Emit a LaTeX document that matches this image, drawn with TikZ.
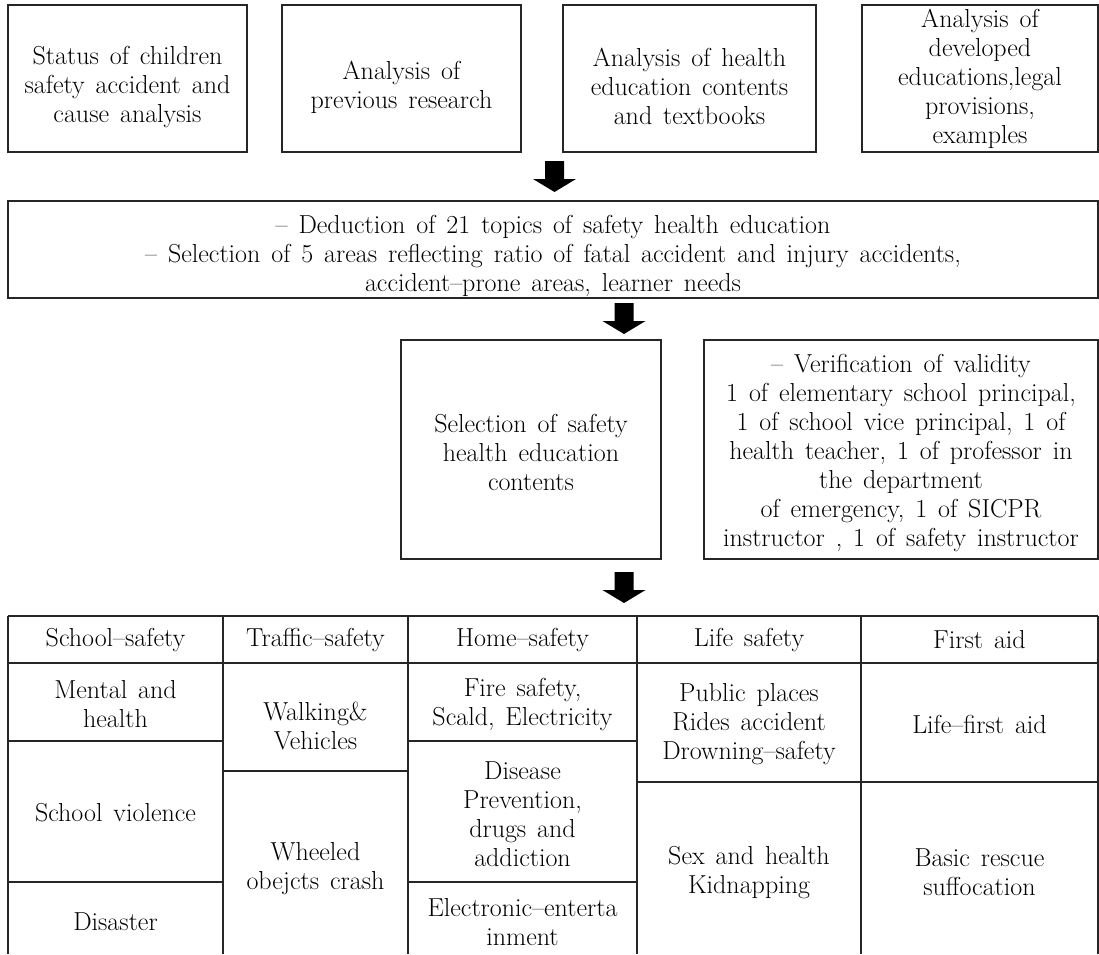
\documentclass[tikz,border=0pt]{standalone}
\usepackage{fontspec}
\newcommand\diagfont{\fontsize{26}{29}\selectfont\spaceskip=0.42em\relax}
\begin{document}
\begin{tikzpicture}[x=1pt,y=-1pt,
  box/.style={draw=black!85, line width=1.3pt, inner sep=0pt},
  txt/.style={inner sep=0pt, align=center, font=\diagfont},
  grid/.style={draw=black!85, line width=1.3pt},
  blockarrow/.pic={\fill[black] (-9.5,0) -- (9.5,0) -- (9.5,18) -- (21.5,18) -- (0,31)
                   -- (-21.5,18) -- (-9.5,18) -- cycle;}]
\useasboundingbox (0,0) rectangle (1099,954);

% top row
\node[box, minimum width=239pt, minimum height=147pt] (b1) at (127.5,78.5) {};
\node[txt, yshift=-9pt] (t1) at (b1) {Status of children\\safety accident and\\cause analysis};
\node[box, minimum width=239pt, minimum height=147pt] (b2) at (401.5,78.5) {};
\node[txt, yshift=-9pt] (t2) at (b2) {Analysis of\\previous research};
\node[box, minimum width=253pt, minimum height=147pt] (b3) at (689.5,78.5) {};
\node[txt, yshift=-8pt] (t3) at (b3) {Analysis of health\\education contents\\and textbooks};
\node[box, minimum width=236pt, minimum height=147pt] (b4) at (980,78.5) {};
\node[txt] (t4) at (b4) {Analysis of\\developed\\educations,legal\\provisions,\\examples};

\pic at (554.5,161) {blockarrow};

\node[box, minimum width=1090pt, minimum height=97pt] (deduct) at (553,249.5) {};
\node[txt, yshift=-6pt] (tdeduct) at (deduct)
  {-- Deduction of 21 topics of safety health education\\
   -- Selection of 5 areas reflecting ratio of fatal accident and injury accidents,\\
   accident--prone areas, learner needs};

\pic at (624,303) {blockarrow};

\node[box, minimum width=260pt, minimum height=219pt] (sel) at (531,449.5) {};
\node[txt, yshift=-3pt] (tsel) at (sel) {Selection of safety\\health education\\contents};
\node[box, minimum width=394pt, minimum height=219pt] (ver) at (901,449.5) {};
\node[txt, yshift=-4pt] (tver) at (ver)
  {-- Verification of validity\\
   1 of elementary school principal,\\
   1 of school vice principal, 1 of\\
   health teacher, 1 of professor in\\
   the department\\
   of emergency, 1 of SICPR\\
   instructor , 1 of safety instructor};

\pic at (624,572) {blockarrow};

% table grid
\draw[grid] (8,616) -- (1098,616);
\draw[grid] (8,663) -- (1098,663);
\foreach \xx in {8,223,408,637,861,1098} \draw[grid] (\xx,616) -- (\xx,954);
\draw[grid] (8,741) -- (223,741);
\draw[grid] (8,882) -- (223,882);
\draw[grid] (223,771) -- (408,771);
\draw[grid] (408,741) -- (637,741);
\draw[grid] (408,882) -- (637,882);
\draw[grid] (637,782) -- (1098,782);

% headers
\node[txt] (h1) at (115.5,640) {School--safety};
\node[txt] (h2) at (315.5,640) {Traffic--safety};
\node[txt] (h3) at (522.5,640) {Home--safety};
\node[txt] (h4) at (749,640) {Life safety};
\node[txt] (h5) at (979.5,640) {First aid};

% column 1
\node[txt] (c11) at (115.5,704) {Mental and\\health};
\node[txt] (c12) at (115.5,813) {School violence};
\node[txt] (c13) at (115.5,922) {Disaster};
% column 2
\node[txt] (c21) at (315.5,726) {Walking\&\\Vehicles};
\node[txt] (c22) at (315.5,869) {Wheeled\\obejcts crash};
% column 3
\node[txt] (c31) at (522.5,704) {Fire safety,\\Scald, Electricity};
\node[txt] (c32) at (522.5,814) {Disease\\Prevention,\\drugs and\\addiction};
\node[txt] (c33) at (522.5,922.5) {Electronic--enterta\\inment};
% column 4
\node[txt] (c41) at (749,724) {Public places\\Rides accident\\Drowning--safety};
\node[txt] (c42) at (749,872.5) {Sex and health\\Kidnapping};
% column 5
\node[txt] (c51) at (979.5,724) {Life--first aid};
\node[txt] (c52) at (979.5,872.5) {Basic rescue\\suffocation};
\end{tikzpicture}
\end{document}
